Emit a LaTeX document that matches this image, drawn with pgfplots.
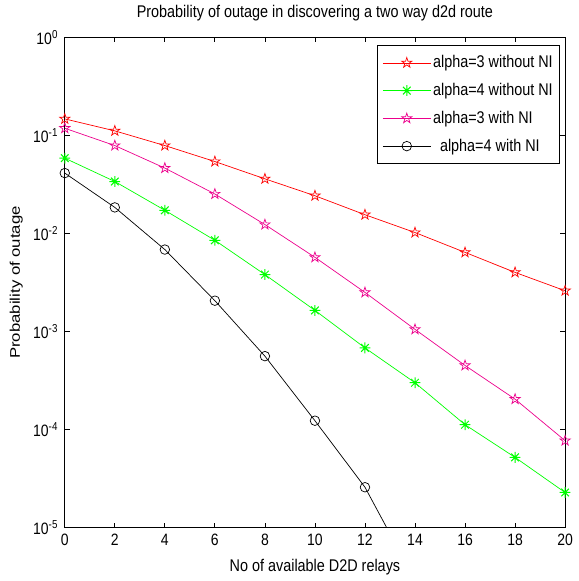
\documentclass[border=0pt]{standalone}
\usepackage{fontspec}
\setmainfont{Liberation Sans}[FakeStretch=0.85]
\newfontfamily\ylfont{Liberation Sans}[FakeStretch=1.2]
\usepackage{pgfplots}
\pgfplotsset{compat=1.18}

\pgfdeclareplotmark{pentagram}{%
  \pgfpathmoveto{\pgfpointpolar{90}{\pgfplotmarksize}}%
  \pgfpathlineto{\pgfpointpolar{126}{0.382\pgfplotmarksize}}%
  \pgfpathlineto{\pgfpointpolar{162}{\pgfplotmarksize}}%
  \pgfpathlineto{\pgfpointpolar{198}{0.382\pgfplotmarksize}}%
  \pgfpathlineto{\pgfpointpolar{234}{\pgfplotmarksize}}%
  \pgfpathlineto{\pgfpointpolar{270}{0.382\pgfplotmarksize}}%
  \pgfpathlineto{\pgfpointpolar{306}{\pgfplotmarksize}}%
  \pgfpathlineto{\pgfpointpolar{342}{0.382\pgfplotmarksize}}%
  \pgfpathlineto{\pgfpointpolar{18}{\pgfplotmarksize}}%
  \pgfpathlineto{\pgfpointpolar{54}{0.382\pgfplotmarksize}}%
  \pgfpathclose
  \pgfusepathqstroke}
\pgfdeclareplotmark{ast8}{%
  \pgfpathmoveto{\pgfqpoint{-\pgfplotmarksize}{0pt}}\pgfpathlineto{\pgfqpoint{\pgfplotmarksize}{0pt}}%
  \pgfpathmoveto{\pgfqpoint{0pt}{-\pgfplotmarksize}}\pgfpathlineto{\pgfqpoint{0pt}{\pgfplotmarksize}}%
  \pgfpathmoveto{\pgfpointpolar{45}{\pgfplotmarksize}}\pgfpathlineto{\pgfpointpolar{225}{\pgfplotmarksize}}%
  \pgfpathmoveto{\pgfpointpolar{135}{\pgfplotmarksize}}\pgfpathlineto{\pgfpointpolar{315}{\pgfplotmarksize}}%
  \pgfusepathqstroke}

\begin{document}
\fontsize{17bp}{20bp}\selectfont
\begin{tikzpicture}
\begin{axis}[
  name=main,
  scale only axis,
  width=502bp, height=492bp,
  ymode=log, log basis y=10,
  xmin=0, xmax=20, ymin=1e-5, ymax=1,
  xtick={0,2,...,20},
  ytick={1e-5,1e-4,1e-3,1e-2,1e-1,1},
  /pgf/number format/assume math mode=true,
  yticklabel={10\textsuperscript{\pgfmathparse{int(round(\tick))}\pgfmathresult}},
  tick label style={font=\fontsize{16.5bp}{19bp}\selectfont},
  yticklabel style={xshift=-1bp},
  xticklabel style={yshift=-1bp},
  tick align=inside,
  tick pos=both,
  major tick length=5bp,
  minor tick length=3bp,
  axis line style={line width=1.2bp},
  every tick/.style={black, line width=0.8bp},
  xlabel={No of available D2D relays},
  ylabel={\ylfont\fontsize{14bp}{16bp}\selectfont Probability of outage},
  xlabel style={yshift=-2bp},
  ylabel style={yshift=-1bp},
  title={Probability of outage in discovering a two way d2d route},
  title style={font=\fontsize{17bp}{19bp}\selectfont, yshift=4bp},
  legend cell align=left,
  legend style={at={(0.990,0.984)}, anchor=north east, draw=black, line width=0.8bp,
    font=\fontsize{17bp}{20bp}\selectfont, row sep=9bp, inner xsep=5bp, inner ysep=8bp},
  legend image code/.code={%
    \draw[mark repeat=2,mark phase=2,#1] plot coordinates {(0bp,0bp)(24bp,0bp)(48bp,0bp)};},
  every axis plot/.append style={line width=0.7bp, mark size=5.4bp, mark options={solid, line width=0.7bp}},
]
\addplot[color=red, mark=pentagram] coordinates {
(0,0.147)(2,0.111)(4,0.0786)(6,0.054)(8,0.036)(10,0.0242)(12,0.0155)(14,0.0102)(16,0.0064)(18,0.0040)(20,0.0026)};
\addlegendentry{alpha=3 without NI}
\addplot[color=green, mark=ast8, mark options={line width=1bp}] coordinates {
(0,0.0585)(2,0.0338)(4,0.0172)(6,0.0085)(8,0.0038)(10,0.00164)(12,0.00068)(14,0.0003)(16,0.000112)(18,0.000052)(20,0.0000228)};
\addlegendentry{alpha=4 without NI}
\addplot[color=magenta, mark=pentagram] coordinates {
(0,0.118)(2,0.0786)(4,0.0463)(6,0.0252)(8,0.0123)(10,0.0057)(12,0.0025)(14,0.00105)(16,0.00045)(18,0.000204)(20,0.000077)};
\addlegendentry{alpha=3 with NI}
\addplot[color=black, mark=o, mark size=4.8bp] coordinates {
(0,0.0412)(2,0.0184)(4,0.00684)(6,0.00206)(8,0.00056)(10,0.000123)(12,0.0000258)(14,0.0000029)(16,0.0000003)(18,0.00000003)(20,0.000000003)};
\addlegendentry{\hspace{7bp}alpha=4 with NI}
\end{axis}
\path (main.south west) ++(-65bp,0bp);
\end{tikzpicture}
\end{document}
